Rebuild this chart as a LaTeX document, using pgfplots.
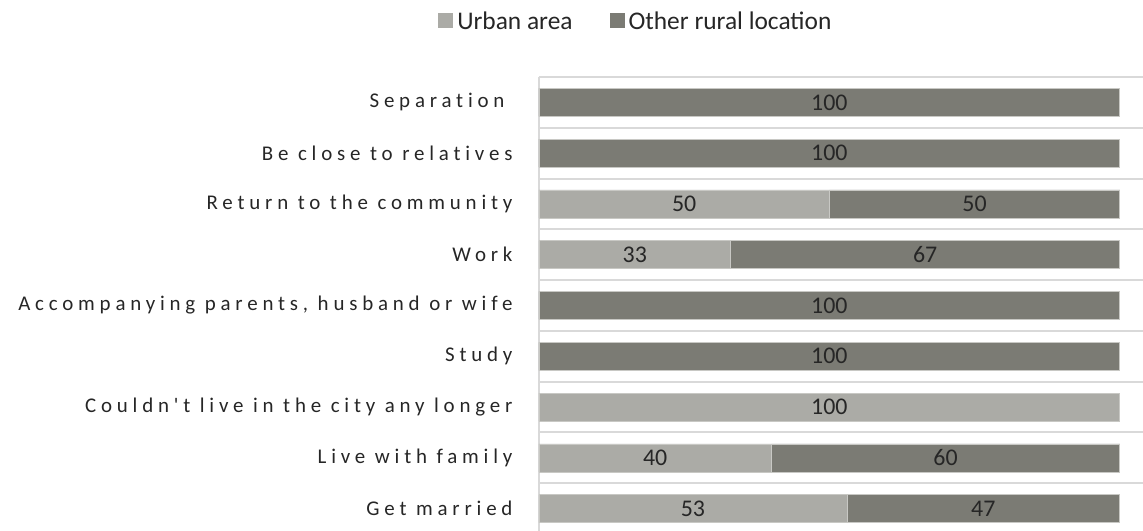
\documentclass[border=0pt]{standalone}
\usepackage{pgfplots}
\pgfplotsset{compat=1.18}
\usepackage{fontspec}
\setmainfont{Carlito}
\newfontfamily\spacedfont[LetterSpace=23, RawFeature={-liga}]{Carlito}
\definecolor{urban}{HTML}{ABABA6}
\definecolor{rural}{HTML}{7B7B74}
\definecolor{gridc}{HTML}{D9D9D9}
\definecolor{txt}{HTML}{262626}
\definecolor{barline}{HTML}{C8C8C4}
\begin{document}
\begin{tikzpicture}
\begin{axis}[
  name=ax, scale only axis, width=604bp, height=457bp,
  xmin=0, xmax=104, ymin=-0.5, ymax=8.5, y dir=reverse,
  xbar stacked, bar width=28bp,
  axis line style={draw=none},
  xtick=\empty,
  ytick={0,1,2,3,4,5,6,7,8},
  yticklabels={Separation\kern8bp, Be close to relatives, Return to the community, Work, {Accompanying parents, husband or wife}, Study, Couldn't live in the city any longer, Live with family, Get married},
  yticklabel style={font=\fontsize{21}{24}\spacedfont, text=txt, xshift=-23bp},
  major tick length=0pt, minor tick length=0pt,
  minor ytick={-0.5,0.5,...,8.5},
  yminorgrids, minor grid style={gridc, line width=2bp},
  extra x ticks={0}, extra x tick labels={},
  extra x tick style={grid=major, major grid style={gridc, line width=2bp}},
  legend columns=-1,
  legend style={at={(axis description cs:0.162,1)}, anchor=center, yshift=56bp,
    draw=none, fill=none, font=\fontsize{25.5}{29}\selectfont, text=txt,
    nodes={inner xsep=4bp},
    /tikz/every even column/.append style={column sep=33bp}},
  legend image code/.code={\fill[#1, draw=none] (0bp,-7.5bp) rectangle (15bp,7.5bp);},
]
\addplot[fill=urban, draw=barline, line width=0.6bp] coordinates {(0,0) (0,1) (50,2) (33,3) (0,4) (0,5) (100,6) (40,7) (53,8)};
\addlegendentry{Urban area}
\addplot[fill=rural, draw=barline, line width=0.6bp] coordinates {(100,0) (100,1) (50,2) (67,3) (100,4) (100,5) (0,6) (60,7) (47,8)};
\addlegendentry{Other rural location}
\end{axis}
\begin{axis}[
  scale only axis, width=604bp, height=457bp,
  xmin=0, xmax=104, ymin=-0.5, ymax=8.5, y dir=reverse,
  hide axis,
]
\addplot[only marks, mark=none, nodes near coords, point meta=explicit symbolic,
  every node near coord/.append style={anchor=center, font=\fontsize{24}{28}\selectfont, text=txt}]
  coordinates {(50,0)[100] (50,1)[100] (25,2)[50] (75,2)[50] (16.5,3)[33] (66.5,3)[67] (50,4)[100] (50,5)[100] (50,6)[100] (20,7)[40] (70,7)[60] (26.5,8)[53] (76.5,8)[47]};
\end{axis}
\pgfresetboundingbox
\path[use as bounding box] (ax.north west) ++(-539bp,77bp) rectangle ++(1143bp,-531bp);
\end{tikzpicture}
\end{document}
